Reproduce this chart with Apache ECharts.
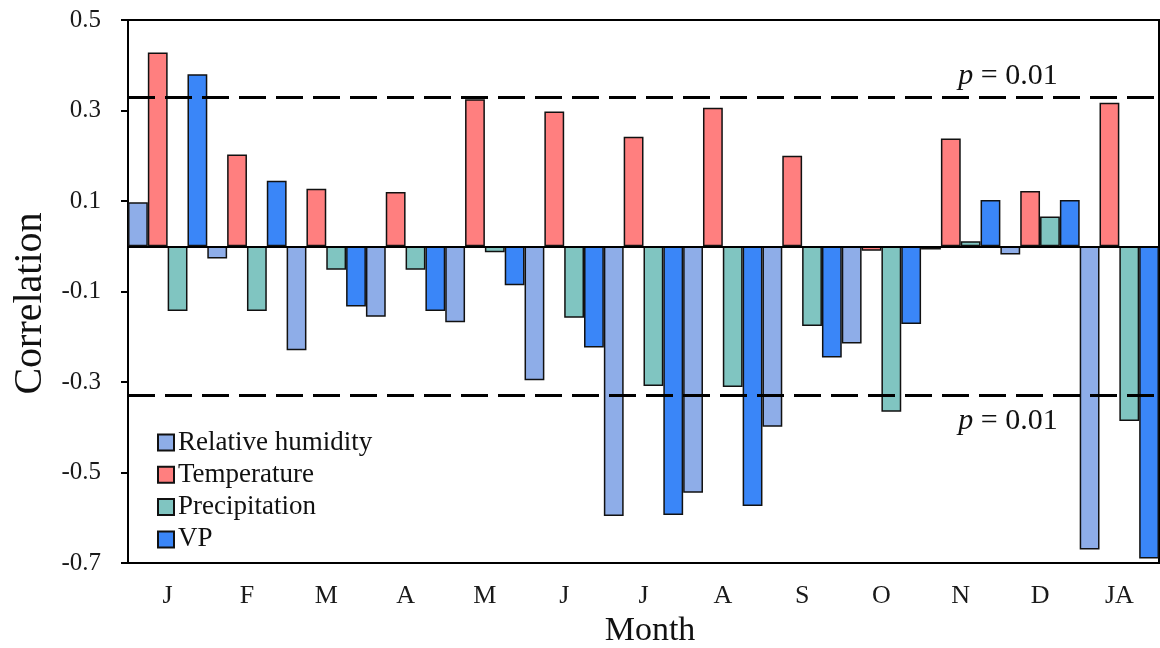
<!DOCTYPE html>
<html>
<head>
<meta charset="utf-8">
<script src="https://cdn.jsdelivr.net/npm/echarts@6/dist/echarts.min.js"></script>
<style>html,body{margin:0;padding:0;background:#fff}#c{width:1160px;height:648px}</style>
</head>
<body>
<div id="c"></div>
<script>
const months = ['J','F','M','A','M','J','J','A','S','O','N','D','JA'];
const seriesNames = ['Relative humidity','Temperature','Precipitation','VP'];
const relHumidity = [0.097, -0.027, -0.230, -0.156, -0.168, -0.296, -0.596, -0.545, -0.399, -0.215, -0.007, -0.018, -0.670];
const temperature = [0.428, 0.203, 0.127, 0.120, 0.325, 0.298, 0.242, 0.306, 0.200, -0.010, 0.238, 0.122, 0.317];
const precipitation = [-0.143, -0.143, -0.052, -0.052, -0.013, -0.158, -0.309, -0.311, -0.176, -0.366, 0.011, 0.066, -0.386];
const vaporPressure = [0.380, 0.145, -0.133, -0.143, -0.086, -0.224, -0.594, -0.574, -0.246, -0.172, 0.102, 0.102, -0.690];
const yTicks = [-0.7, -0.5, -0.3, -0.1, 0.1, 0.3, 0.5];
const pThreshold = 0.325;
const pLabel = '0.01';

const colors = ['#8EADE8', '#FF7F7F', '#80C5C1', '#3A86F8'];
const serif = '"Liberation Serif", "Times New Roman", serif';
const values = [relHumidity, temperature, precipitation, vaporPressure];

const chart = echarts.init(document.getElementById('c'), null, {renderer: 'canvas'});

const series = values.map((d, i) => ({
  name: seriesNames[i],
  type: 'bar',
  data: d,
  barGap: '0%',
  barCategoryGap: '0%',
  itemStyle: {color: colors[i], borderColor: '#111', borderWidth: 1.5},
  emphasis: {disabled: true}
}));

series[3].markLine = {
  silent: true,
  symbol: 'none',
  animation: false,
  label: {show: false},
  data: [
    {yAxis: 0, lineStyle: {type: 'solid', width: 2, color: '#000'}},
    {yAxis: pThreshold, lineStyle: {type: [27, 10], width: 3, color: '#000'}},
    {yAxis: -pThreshold, lineStyle: {type: [27, 10], width: 3, color: '#000'}}
  ]
};

const option = {
  animation: false,
  backgroundColor: '#fff',
  grid: {left: 128, right: 1, top: 20, bottom: 85, show: true, borderColor: '#000', borderWidth: 2,
    backgroundColor: 'transparent', containLabel: false, outerBoundsMode: 'none'},
  legend: {
    orient: 'vertical',
    left: 152,
    top: 424,
    itemWidth: 16,
    itemHeight: 16,
    itemGap: 5.3,
    icon: 'rect',
    data: seriesNames,
    textStyle: {fontFamily: serif, fontSize: 27, lineHeight: 27, color: '#111', padding: [0, 0, 0, -1]}
  },
  xAxis: {
    type: 'category',
    data: months,
    name: 'Month',
    nameLocation: 'middle',
    nameGap: 47,
    nameTextStyle: {fontFamily: serif, fontSize: 34, color: '#111', padding: [0, 0, 0, 13]},
    axisLine: {onZero: false, lineStyle: {color: '#000', width: 2}},
    axisTick: {show: false},
    axisLabel: {fontFamily: serif, fontSize: 26, color: '#1a1a1a', margin: 20},
    splitLine: {show: false}
  },
  yAxis: {
    type: 'value',
    min: -0.7,
    max: 0.5,
    name: 'Correlation',
    nameLocation: 'middle',
    nameGap: 78,
    nameTextStyle: {fontFamily: serif, fontSize: 40, color: '#111', padding: [0, 24, 0, 0]},
    axisLine: {show: true, lineStyle: {color: '#000', width: 2}},
    axisTick: {show: true, length: 7, lineStyle: {color: '#000', width: 2}, customValues: yTicks},
    axisLabel: {fontFamily: serif, fontSize: 25, color: '#1a1a1a', margin: 27, customValues: yTicks,
      formatter: v => Number(v).toFixed(1)},
    splitLine: {show: false}
  },
  graphic: [
    {type: 'text', x: 1008, y: 76, z: 100, silent: true,
      style: {text: '{i|p} = ' + pLabel, fontFamily: serif, fontSize: 30, fill: '#111', align: 'center', verticalAlign: 'middle',
        rich: {i: {fontStyle: 'italic', fontFamily: serif, fontSize: 30}}}},
    {type: 'text', x: 1008, y: 421, z: 100, silent: true,
      style: {text: '{i|p} = ' + pLabel, fontFamily: serif, fontSize: 30, fill: '#111', align: 'center', verticalAlign: 'middle',
        rich: {i: {fontStyle: 'italic', fontFamily: serif, fontSize: 30}}}}
  ],
  series: series
};
chart.setOption(option);
</script>
</body>
</html>
